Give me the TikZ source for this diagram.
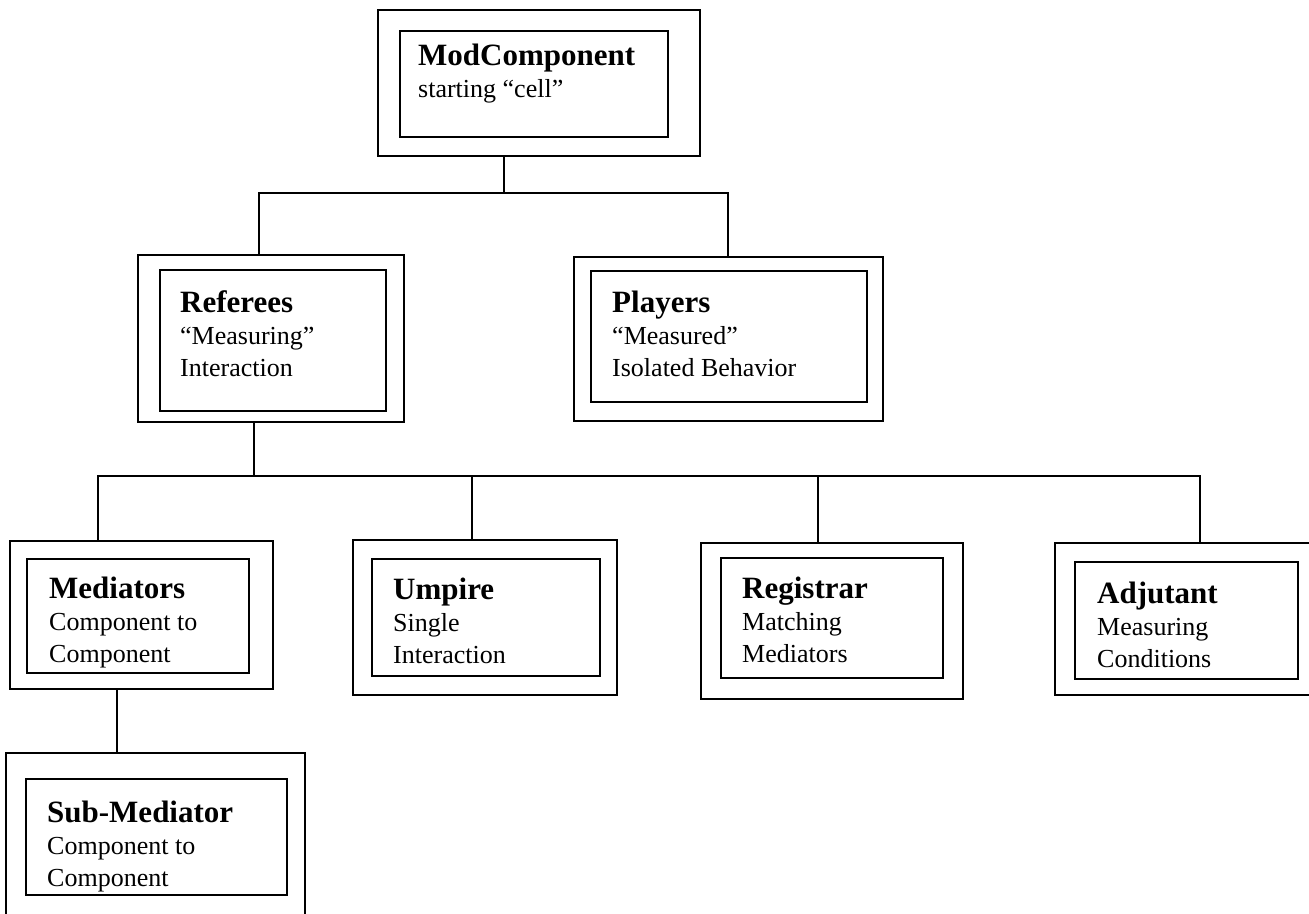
\documentclass[tikz,border=0pt]{standalone}
\usepackage{fontspec}
\setmainfont{Liberation Serif}
\usetikzlibrary{fit}

\tikzset{
  outerbox/.style={draw, line width=1.8pt, inner sep=0pt},
  innerbox/.style={draw, line width=1.8pt, inner sep=0pt},
  txt/.style={anchor=north west, inner sep=0pt, align=left,
    font=\fontsize{26}{32}\selectfont},
  link/.style={line width=1.6pt},
}
\newcommand{\hd}[1]{{\bfseries\fontsize{31}{32}\selectfont #1}}

\begin{document}
\begin{tikzpicture}[x=1pt,y=-1pt]
\useasboundingbox (0,0) rectangle (1309,913);

% top
\node[outerbox, fit={(378,10) (700,156)}] (modO) {};
\node[innerbox, fit={(400,31) (668,137)}] (modI) {};
\node[txt] (modT) at (418,43.5) {\hd{ModComponent}\\starting “cell”};

% second row
\node[outerbox, fit={(138,255) (404,422)}] (refO) {};
\node[innerbox, fit={(160,270) (386,411)}] (refI) {};
\node[txt] (refT) at (180,290.5) {\hd{Referees}\\“Measuring”\\Interaction};

\node[outerbox, fit={(574,257) (883,421)}] (plyO) {};
\node[innerbox, fit={(591,271) (867,402)}] (plyI) {};
\node[txt] (plyT) at (612,290.5) {\hd{Players}\\“Measured”\\Isolated Behavior};

% third row
\node[outerbox, fit={(10,541) (273,689)}] (medO) {};
\node[innerbox, fit={(27,559) (249,673)}] (medI) {};
\node[txt] (medT) at (49,576.5) {\hd{Mediators}\\Component to\\Component};

\node[outerbox, fit={(353,540) (617,695)}] (umpO) {};
\node[innerbox, fit={(372,559) (600,676)}] (umpI) {};
\node[txt] (umpT) at (393,577.5) {\hd{Umpire}\\Single\\Interaction};

\node[outerbox, fit={(701,543) (963,699)}] (regO) {};
\node[innerbox, fit={(721,558) (943,678)}] (regI) {};
\node[txt] (regT) at (742,576.5) {\hd{Registrar}\\Matching\\Mediators};

\node[outerbox, fit={(1055,543) (1318,695)}] (adjO) {};
\node[innerbox, fit={(1075,562) (1298,679)}] (adjI) {};
\node[txt] (adjT) at (1097,581.5) {\hd{Adjutant}\\Measuring\\Conditions};

% bottom
\node[outerbox, fit={(6,753) (305,925)}] (subO) {};
\node[innerbox, fit={(26,779) (287,895)}] (subI) {};
\node[txt] (subT) at (47,800.5) {\hd{Sub-Mediator}\\Component to\\Component};

% links
\coordinate (j0) at (504,193);
\coordinate (h1L) at (259,193);
\coordinate (h1R) at (728,193);
\draw[link] (modO.south -| j0) -- (j0);
\draw[link] (h1L |- refO.north) -- (h1L) -- (h1R) -- (h1R |- plyO.north);

\coordinate (j1) at (254,476);
\coordinate (h2a) at (98,476);
\coordinate (h2b) at (472,476);
\coordinate (h2c) at (818,476);
\coordinate (h2d) at (1200,476);
\draw[link] (refO.south -| j1) -- (j1);
\draw[link] (h2a |- medO.north) -- (h2a) -- (h2d) -- (h2d |- adjO.north);
\draw[link] (h2b) -- (h2b |- umpO.north);
\draw[link] (h2c) -- (h2c |- regO.north);

\coordinate (j2) at (117,720);
\draw[link] (medO.south -| j2) -- (subO.north -| j2);

\end{tikzpicture}
\end{document}
